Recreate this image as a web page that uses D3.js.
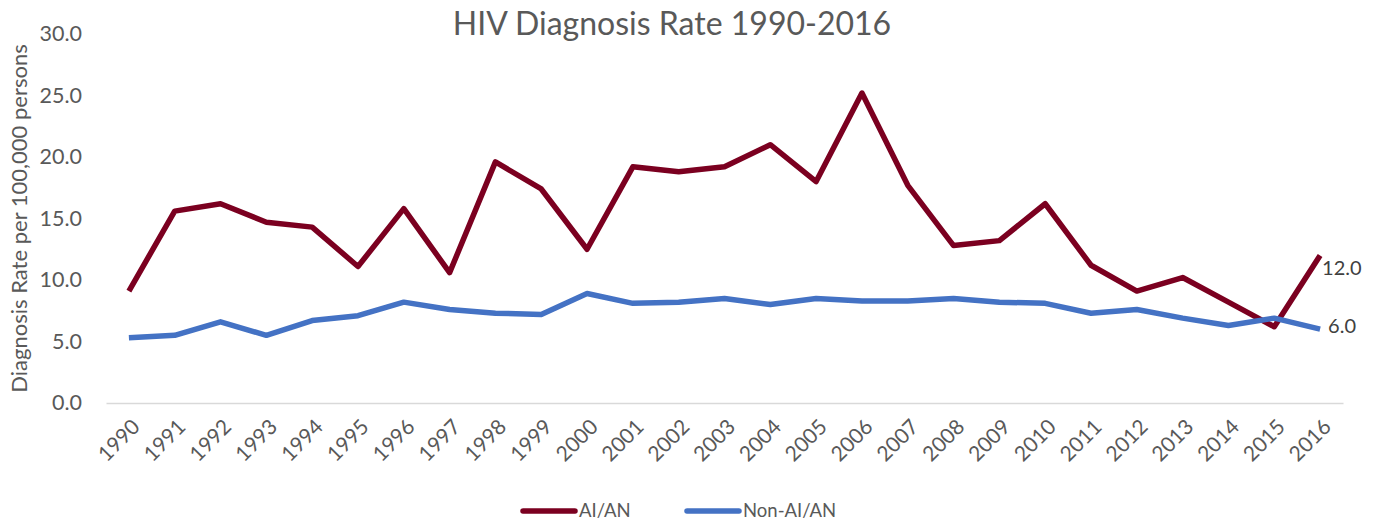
<!DOCTYPE html>
<html>
<head>
<meta charset="utf-8">
<script src="https://cdn.jsdelivr.net/npm/d3@7"></script>
<style>
  body { margin: 0; background: #fff; }
  svg { display: block; font-family: Lato, sans-serif; }
</style>
</head>
<body>
<script>
const years = [1990, 1991, 1992, 1993, 1994, 1995, 1996, 1997, 1998, 1999, 2000, 2001, 2002, 2003,
  2004, 2005, 2006, 2007, 2008, 2009, 2010, 2011, 2012, 2013, 2014, 2015, 2016];
const aian = [9.1, 15.6, 16.2, 14.7, 14.3, 11.1, 15.8, 10.6, 19.6, 17.4, 12.5, 19.2, 18.8, 19.2,
  21.0, 18.0, 25.2, 17.7, 12.8, 13.2, 16.2, 11.2, 9.1, 10.2, 8.2, 6.2, 12.0];
const nonAian = [5.3, 5.5, 6.6, 5.5, 6.7, 7.1, 8.2, 7.6, 7.3, 7.2, 8.9, 8.1, 8.2, 8.5,
  8.0, 8.5, 8.3, 8.3, 8.5, 8.2, 8.1, 7.3, 7.6, 6.9, 6.3, 6.9, 6.0];
const yTicks = [0, 5, 10, 15, 20, 25, 30];

const series = [
  { name: 'AI/AN', values: aian, color: '#7b0020' },
  { name: 'Non-AI/AN', values: nonAian, color: '#4472c4' }
];

const width = 1374;
const height = 525;
const margin = { top: 34, right: 31, bottom: 122, left: 106 };
const textColor = '#595959';
const font = 'Lato, sans-serif';

const svg = d3.select('body').append('svg')
  .attr('width', width)
  .attr('height', height);

const x = d3.scaleBand()
  .domain(years)
  .range([margin.left, width - margin.right]);

const y = d3.scaleLinear()
  .domain([0, 30])
  .range([height - margin.bottom, margin.top]);

// title
svg.append('text')
  .attr('x', 672)
  .attr('y', 35)
  .attr('text-anchor', 'middle')
  .attr('fill', textColor)
  .style('font-size', '32px')
  .text('HIV Diagnosis Rate 1990-2016');

// y axis labels
const yAxis = svg.append('g')
  .attr('transform', `translate(${margin.left},0)`)
  .call(d3.axisLeft(y).tickValues(yTicks).tickSize(0).tickPadding(24).tickFormat(d3.format('.1f')));
yAxis.select('.domain').remove();
yAxis.selectAll('text')
  .attr('fill', textColor)
  .style('font-size', '21.5px')
  .style('font-family', font);

svg.append('text')
  .attr('transform', `translate(27,${(y(0) + y(30)) / 2}) rotate(-90)`)
  .attr('text-anchor', 'middle')
  .attr('fill', textColor)
  .style('font-size', '22px')
  .text('Diagnosis Rate per 100,000 persons');

// x axis
const xAxis = svg.append('g')
  .attr('transform', `translate(0,${y(0)})`)
  .call(d3.axisBottom(x).tickSize(0).tickPadding(0));
xAxis.select('.domain')
  .attr('stroke', '#d9d9d9')
  .attr('stroke-width', 1.5);
xAxis.selectAll('text')
  .attr('fill', textColor)
  .attr('text-anchor', 'end')
  .attr('dy', '0.35em')
  .attr('transform', 'translate(7,20) rotate(-45)')
  .style('font-size', '21px')
  .style('font-family', font);

// lines
const line = d3.line()
  .x((d, i) => x(years[i]) + x.bandwidth() / 2)
  .y(d => y(d));

svg.append('g')
  .selectAll('path')
  .data(series)
  .join('path')
    .attr('fill', 'none')
    .attr('stroke', d => d.color)
    .attr('stroke-width', 5.5)
    .attr('stroke-linejoin', 'round')
    .attr('d', d => line(d.values));

// end labels
const last = years.length - 1;
svg.append('g')
  .selectAll('text')
  .data(series)
  .join('text')
    .attr('x', x(years[last]) + x.bandwidth() / 2)
    .attr('dx', (d, i) => i === 0 ? 2 : 8)
    .attr('y', (d, i) => y(d.values[last]) + (i === 0 ? 13 : -3))
    .attr('dy', '0.35em')
    .attr('fill', '#404040')
    .style('font-size', '20px')
    .text(d => d3.format('.1f')(d.values[last]));

// legend
const legend = svg.append('g')
  .attr('transform', 'translate(523,511)');
const items = legend.selectAll('g')
  .data(series)
  .join('g')
    .attr('transform', (d, i) => `translate(${i === 0 ? 0 : 164},0)`);
items.append('line')
  .attr('x1', 0)
  .attr('x2', 52)
  .attr('stroke', d => d.color)
  .attr('stroke-width', 5.5)
  .attr('stroke-linecap', 'round');
items.append('text')
  .attr('x', 56)
  .attr('dy', '0.35em')
  .attr('fill', textColor)
  .style('font-size', '18.5px')
  .text(d => d.name);
</script>
</body>
</html>
